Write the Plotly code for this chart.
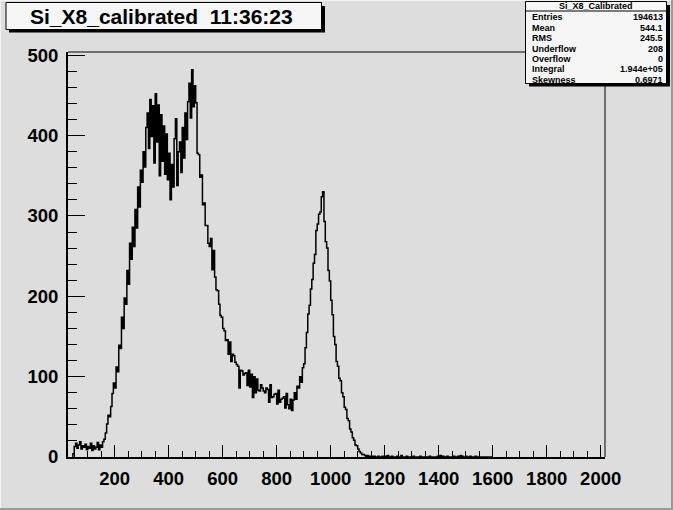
import plotly.graph_objects as go

# ---------------- data (histogram Si_X8_Calibrated, 5-unit bins) ----------------
bin_start = 45
bin_width = 5

counts_045_095 = [4, 13, 17, 11, 15, 19, 10, 14, 12, 16, 9]
counts_100_195 = [13, 11, 17, 8, 14, 10, 12, 18, 9, 15, 12, 19, 22, 30, 41, 52, 50, 63, 79, 92]
counts_200_295 = [86, 112, 106, 139, 135, 174, 160, 198, 190, 232, 215, 266, 246, 286, 262, 308, 285, 336, 311, 357]
counts_300_395 = [342, 380, 361, 410, 428, 384, 445, 399, 437, 366, 452, 392, 438, 350, 426, 368, 412, 352, 402, 345]
counts_400_495 = [378, 320, 364, 336, 396, 421, 338, 380, 392, 354, 410, 372, 428, 395, 442, 465, 422, 482, 436, 462]
counts_500_595 = [441, 378, 376, 348, 351, 314, 316, 288, 288, 266, 262, 272, 233, 257, 224, 208, 207, 190, 176, 174]
counts_600_695 = [160, 157, 145, 146, 128, 143, 119, 128, 126, 118, 115, 113, 86, 108, 107, 102, 104, 105, 89, 108]
counts_700_795 = [87, 103, 74, 100, 80, 97, 83, 82, 90, 86, 82, 80, 86, 84, 68, 90, 74, 75, 78, 79]
counts_800_895 = [66, 83, 68, 72, 73, 75, 61, 79, 65, 60, 72, 58, 71, 80, 72, 88, 86, 100, 93, 111]
counts_900_995 = [116, 136, 155, 178, 189, 209, 221, 241, 252, 282, 290, 302, 305, 324, 330, 293, 268, 260, 232, 219]
counts_1000_1095 = [195, 177, 150, 140, 119, 113, 98, 95, 80, 75, 62, 59, 48, 45, 35, 31, 24, 21, 15, 14]
counts_1100_1195 = [10, 7, 5, 3, 3, 2, 1, 2, 1, 0, 1, 0, 1, 0, 0, 1, 0, 0, 1, 0]
counts_1200_1295 = [1, 0, 2, 0, 0, 1, 0, 0, 0, 1, 0, 0, 2, 0, 0, 0, 1, 0, 0, 0]
counts_1300_1395 = [0, 1, 0, 0, 0, 0, 1, 0, 0, 0, 0, 0, 0, 1, 0, 0, 0, 0, 0, 1]
counts_1400_1495 = [0, 2, 0, 1, 0, 0, 1, 0, 0, 0, 0, 1, 0, 0, 1, 0, 2, 1, 0, 0]
counts_1500_1595 = [1, 0, 0, 1, 0, 0, 0, 1, 0, 0, 0, 0, 0, 0, 0, 0, 0, 0, 0, 0]

x_range = [27, 2016]
y_range = [0, 504]

title_text = "Si_X8_calibrated\u00a0\u00a011:36:23"
stats_title = "Si_X8_Calibrated"
stats_labels = ["Entries", "Mean", "RMS", "Underflow", "Overflow", "Integral", "Skewness"]
stats_values = ["194613", "544.1", "245.5", "208", "0", "1.944e+05", "0.6971"]

counts = (counts_045_095 + counts_100_195 + counts_200_295 + counts_300_395 + counts_400_495
          + counts_500_595 + counts_600_695 + counts_700_795 + counts_800_895 + counts_900_995
          + counts_1000_1095 + counts_1100_1195 + counts_1200_1295 + counts_1300_1395
          + counts_1400_1495 + counts_1500_1595)
edges = [bin_start + bin_width * i for i in range(len(counts) + 1)]
xs = [edges[0]] + edges[:-1] + [edges[-1], edges[-1]]
ys = [0] + counts + [counts[-1], 0]

# ---------------- layout geometry ----------------
W, H = 673, 510
L, R, T, B = 68, 68, 52, 53
PW, PH = W - L - R, H - T - B
BG = "#dddddd"


def fx(px):
    return (px - L) / PW


def fy(py):
    return (H - B - py) / PH


fig = go.Figure()
fig.add_trace(go.Scatter(x=xs, y=ys, mode="lines", line=dict(color="black", width=1.5, shape="hv"),
                         hoverinfo="skip", showlegend=False))

shapes = []
# frame top and right
shapes.append(dict(type="line", xref="paper", yref="paper", x0=0, x1=1, y0=1, y1=1,
                   line=dict(color="black", width=1), layer="above"))
shapes.append(dict(type="line", xref="paper", yref="paper", x0=1, x1=1, y0=0, y1=1,
                   line=dict(color="black", width=1), layer="above"))
# canvas bevel border
shapes.append(dict(type="line", xref="paper", yref="paper", x0=fx(0), x1=fx(W), y0=fy(H - 1), y1=fy(H - 1),
                   line=dict(color="#9a9a9a", width=2), layer="above"))
shapes.append(dict(type="line", xref="paper", yref="paper", x0=fx(W - 1), x1=fx(W - 1), y0=fy(0), y1=fy(H),
                   line=dict(color="#9a9a9a", width=2), layer="above"))
shapes.append(dict(type="line", xref="paper", yref="paper", x0=fx(0), x1=fx(W - 2), y0=fy(0.5), y1=fy(0.5),
                   line=dict(color="#f2f2f2", width=1), layer="above"))
shapes.append(dict(type="line", xref="paper", yref="paper", x0=fx(0.5), x1=fx(0.5), y0=fy(0), y1=fy(H - 2),
                   line=dict(color="#f2f2f2", width=1), layer="above"))

# title box with shadow
shapes.append(dict(type="rect", xref="paper", yref="paper", x0=fx(9), x1=fx(325), y0=fy(6), y1=fy(32.5),
                   fillcolor="black", line=dict(width=0), layer="above"))
shapes.append(dict(type="rect", xref="paper", yref="paper", x0=fx(6), x1=fx(321.5), y0=fy(2.5), y1=fy(29.5),
                   fillcolor="#f6f6f6", line=dict(color="black", width=1), layer="above"))

# stats box with shadow
shapes.append(dict(type="rect", xref="paper", yref="paper", x0=fx(529), x1=fx(670), y0=fy(5), y1=fy(86.5),
                   fillcolor="black", line=dict(width=0), layer="above"))
shapes.append(dict(type="rect", xref="paper", yref="paper", x0=fx(525.5), x1=fx(666.5), y0=fy(1.5), y1=fy(83.5),
                   fillcolor="#f6f6f6", line=dict(color="black", width=1), layer="above"))
shapes.append(dict(type="line", xref="paper", yref="paper", x0=fx(525.5), x1=fx(666.5), y0=fy(11), y1=fy(11),
                   line=dict(color="black", width=1), layer="above"))
fig.update_layout(shapes=shapes)

annotations = []
annotations.append(dict(xref="paper", yref="paper", x=fx(161), y=fy(16), text=title_text, showarrow=False,
                        xanchor="center", yanchor="middle",
                        font=dict(family="Liberation Sans", size=21, color="black", weight="bold")))
annotations.append(dict(xref="paper", yref="paper", x=fx(596), y=fy(6.3), text=stats_title, showarrow=False,
                        xanchor="center", yanchor="middle",
                        font=dict(family="Liberation Sans", size=9, color="black", weight="bold")))
row_y = [17, 27.8, 38.3, 48.8, 59.3, 69.5, 80]
for lab, val, ry in zip(stats_labels, stats_values, row_y):
    annotations.append(dict(xref="paper", yref="paper", x=fx(530), y=fy(ry), text=lab, showarrow=False,
                            xanchor="left", yanchor="middle",
                            font=dict(family="Liberation Sans", size=9, color="black", weight="bold")))
    annotations.append(dict(xref="paper", yref="paper", x=fx(665), y=fy(ry), text=val, showarrow=False,
                            xanchor="right", yanchor="middle",
                            font=dict(family="Liberation Sans", size=9, color="black", weight="bold")))
fig.update_layout(annotations=annotations)

tickfont = dict(family="Liberation Sans", size=18.5, color="black", weight="bold")
fig.update_layout(
    width=W, height=H,
    margin=dict(l=L, r=R, t=T, b=B, pad=0),
    paper_bgcolor=BG, plot_bgcolor=BG,
    showlegend=False,
    xaxis=dict(range=x_range, dtick=200, tick0=0, showgrid=False, zeroline=False,
               showline=True, linecolor="black", linewidth=2,
               ticks="inside", ticklen=12, tickwidth=1, tickcolor="black",
               minor=dict(dtick=50, tick0=0, ticks="inside", ticklen=6, tickwidth=1, tickcolor="black", showgrid=False),
               tickfont=tickfont, ticklabelstandoff=4),
    yaxis=dict(range=y_range, dtick=100, tick0=0, showgrid=False, zeroline=False,
               showline=True, linecolor="black", linewidth=2,
               ticks="inside", ticklen=17, tickwidth=1, tickcolor="black",
               minor=dict(dtick=20, tick0=0, ticks="inside", ticklen=9, tickwidth=1, tickcolor="black", showgrid=False),
               tickfont=tickfont, ticklabelstandoff=4),
)

fig.write_html("out.html", config={"displayModeBar": False},
               post_script="document.body.style.margin='0';document.body.style.overflow='hidden';")
